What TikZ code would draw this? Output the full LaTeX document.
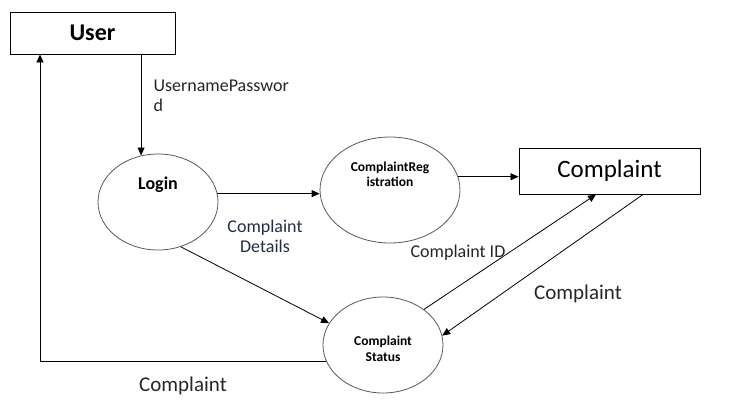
\documentclass[tikz,border=0pt]{standalone}
\usepackage{fontspec}
\setmainfont{Carlito}
\usetikzlibrary{arrows.meta,shapes.geometric}
\definecolor{DetailBlue}{RGB}{35,45,65}
\begin{document}
\begin{tikzpicture}[x=1pt,y=-1pt]
  \tikzset{EntityStyle/.style={draw, line width=0.9pt, inner sep=0pt},
    ProcessStyle/.style={draw=black!65, ellipse, line width=0.8pt, inner sep=0pt},
    FlowStyle/.style={line width=0.8pt, -{Triangle[length=8pt,width=7pt]}},
    LabelStyle/.style={font=\fontsize{18}{20}\selectfont, text=black!85}}
  \useasboundingbox (0,0) rectangle (738,415);
  % entities
  \node[EntityStyle, minimum width=165pt, minimum height=42pt,
    font=\fontsize{24}{28}\selectfont\bfseries] (User) at (92.5,33) {User};
  \node[EntityStyle, minimum width=181pt, minimum height=46pt,
    font=\fontsize{25}{28}\selectfont] (Complaint) at (609.5,171) {Complaint};
  % processes
  \node[ProcessStyle, minimum width=120pt, minimum height=96pt,
    label={[font=\fontsize{18}{20}\selectfont\bfseries, yshift=17pt]center:Login}] (Login) at (158,202) {};
  \node[ProcessStyle, minimum width=140pt, minimum height=106pt,
    label={[font=\fontsize{13.5}{15.5}\selectfont\bfseries, align=center, yshift=15.5pt]center:ComplaintReg\\istration}] (CompReg) at (390,190) {};
  \node[ProcessStyle, minimum width=120pt, minimum height=96pt,
    label={[font=\fontsize{13.5}{16}\selectfont\bfseries, align=center, yshift=-4pt]center:Complaint\\Status}] (Status) at (383,345) {};
  % flows
  \draw[FlowStyle] (User.south -| Login.110) -- (Login.110);
  \draw[FlowStyle] (Login.8) -- (Login.8 -| CompReg.west);
  \draw[FlowStyle] (CompReg.11) -- (CompReg.11 -| Complaint.west);
  \draw[FlowStyle] (Login.-63) -- (Status.158);
  \draw[FlowStyle] (Status.41) -- ([xshift=-13.5pt]Complaint.south);
  \draw[FlowStyle] ([xshift=33.5pt]Complaint.south) -- (Status.9);
  \draw[FlowStyle] (Status.196) -| ([xshift=-52.5pt]User.south);
  % labels
  \node[LabelStyle, align=left, anchor=north west] (UserPass) at (150,76) {UsernamePasswor\\d};
  \node[LabelStyle, align=center, text=DetailBlue] (Details) at (265,236) {Complaint\\Details};
  \node[LabelStyle] (IdLabel) at (458,253) {Complaint ID};
  \node[LabelStyle, font=\fontsize{21}{24}\selectfont] (BackLabel) at (578,294) {Complaint};
  \node[LabelStyle, font=\fontsize{21}{24}\selectfont] (UserLabel) at (183,386) {Complaint};
\end{tikzpicture}
\end{document}
